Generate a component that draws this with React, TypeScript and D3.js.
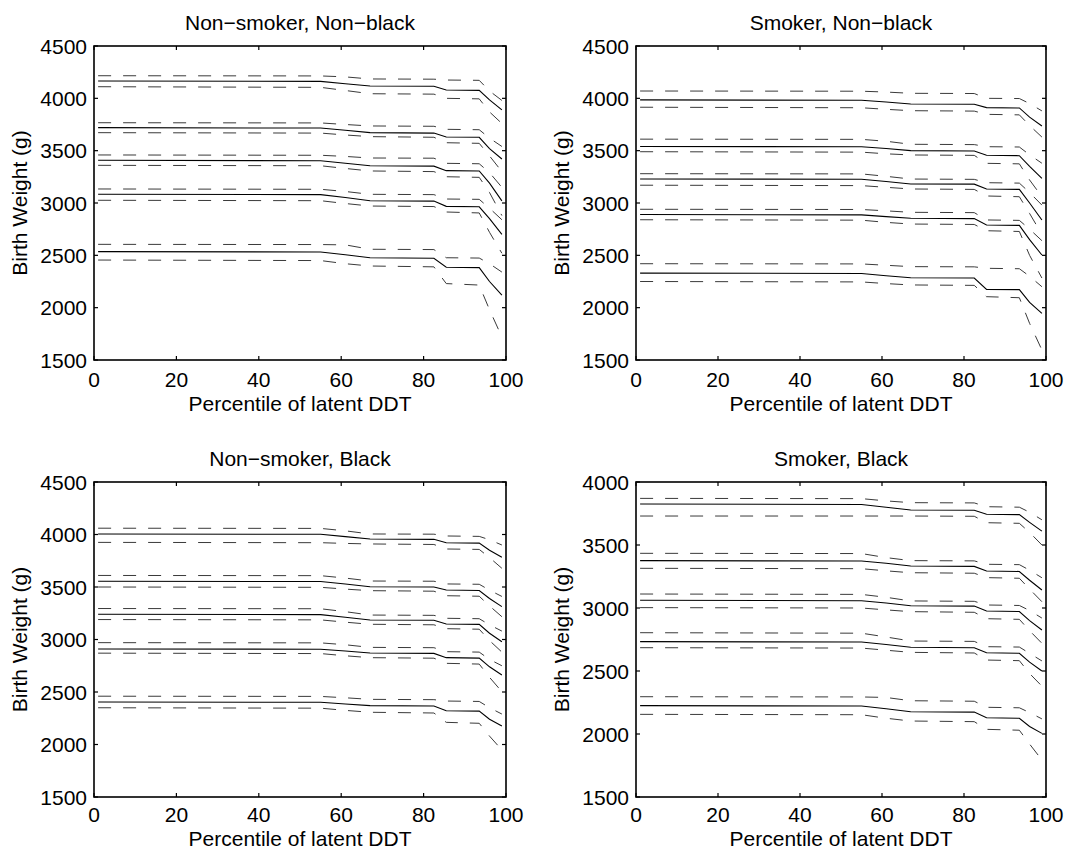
import React from "react";
import * as d3 from "d3";

// Percentile grid of latent DDT at which the quantile curves are evaluated
const PERCENTILES = [1, 55, 61, 67, 82.5, 85.5, 93.5, 96, 99];

const X_TICKS = [0, 20, 40, 60, 80, 100];
const Y_TICKS_WIDE = [1500, 2000, 2500, 3000, 3500, 4000, 4500];
const Y_TICKS_NARROW = [1500, 2000, 2500, 3000, 3500, 4000];

const TITLES = ["Non\u2212smoker, Non\u2212black", "Smoker, Non\u2212black", "Non\u2212smoker, Black", "Smoker, Black"];
const X_LABEL = "Percentile of latent DDT";
const Y_LABEL = "Birth Weight (g)";

// Non-smoker, Non-black: fitted birth-weight quantiles (top to bottom) and bands
const nsNbFit = [
  [4166, 4162, 4140, 4118, 4115, 4080, 4076, 3985, 3890],
  [3720, 3716, 3695, 3672, 3668, 3631, 3628, 3520, 3420],
  [3408, 3404, 3380, 3356, 3352, 3309, 3306, 3190, 3020],
  [3083, 3080, 3052, 3022, 3018, 2968, 2964, 2850, 2700],
  [2535, 2532, 2505, 2477, 2472, 2386, 2383, 2250, 2120],
];
const nsNbUpper = [
  [4216, 4214, 4205, 4185, 4183, 4175, 4172, 4070, 3980],
  [3767, 3765, 3750, 3736, 3733, 3704, 3700, 3620, 3540],
  [3459, 3456, 3445, 3430, 3428, 3379, 3375, 3290, 3150],
  [3134, 3131, 3110, 3083, 3080, 3038, 3035, 2950, 2840],
  [2605, 2603, 2600, 2558, 2555, 2477, 2474, 2420, 2340],
];
const nsNbLower = [
  [4111, 4105, 4075, 4044, 4040, 4000, 3995, 3870, 3760],
  [3672, 3668, 3650, 3634, 3628, 3576, 3570, 3450, 3300],
  [3360, 3356, 3330, 3306, 3300, 3251, 3245, 3100, 2880],
  [3026, 3022, 2995, 2971, 2966, 2914, 2905, 2720, 2520],
  [2455, 2450, 2420, 2398, 2390, 2230, 2216, 1980, 1720],
];

// Smoker, Non-black
const smNbFit = [
  [3985, 3982, 3965, 3946, 3944, 3911, 3908, 3820, 3736],
  [3540, 3537, 3520, 3500, 3497, 3456, 3452, 3350, 3236],
  [3230, 3227, 3205, 3182, 3180, 3134, 3130, 3000, 2838],
  [2890, 2887, 2870, 2854, 2851, 2790, 2786, 2650, 2503],
  [2330, 2327, 2305, 2286, 2283, 2175, 2172, 2050, 1946],
];
const smNbUpper = [
  [4070, 4068, 4060, 4048, 4046, 4000, 3998, 3950, 3880],
  [3610, 3608, 3590, 3561, 3558, 3538, 3535, 3460, 3380],
  [3280, 3278, 3255, 3229, 3226, 3194, 3190, 3100, 2980],
  [2940, 2938, 2925, 2911, 2908, 2838, 2834, 2750, 2640],
  [2420, 2418, 2405, 2392, 2390, 2376, 2372, 2300, 2200],
];
const smNbLower = [
  [3915, 3910, 3895, 3882, 3878, 3847, 3842, 3740, 3630],
  [3490, 3486, 3470, 3459, 3455, 3379, 3374, 3220, 3060],
  [3170, 3166, 3150, 3134, 3130, 3067, 3060, 2900, 2700],
  [2840, 2836, 2815, 2799, 2795, 2735, 2728, 2500, 2283],
  [2250, 2246, 2230, 2217, 2213, 2105, 2095, 1850, 1596],
];

// Non-smoker, Black
const nsBlFit = [
  [4005, 4002, 3980, 3957, 3954, 3922, 3918, 3850, 3783],
  [3555, 3552, 3528, 3503, 3500, 3471, 3467, 3390, 3313],
  [3240, 3237, 3212, 3186, 3183, 3148, 3144, 3060, 2979],
  [2910, 2907, 2890, 2871, 2868, 2827, 2823, 2740, 2662],
  [2405, 2402, 2385, 2370, 2366, 2322, 2318, 2240, 2176],
];
const nsBlUpper = [
  [4060, 4058, 4035, 4005, 4003, 3986, 3982, 3950, 3900],
  [3610, 3608, 3585, 3557, 3555, 3529, 3526, 3470, 3410],
  [3295, 3293, 3265, 3233, 3230, 3202, 3198, 3140, 3080],
  [2970, 2968, 2950, 2925, 2922, 2884, 2880, 2810, 2750],
  [2460, 2458, 2445, 2430, 2427, 2414, 2410, 2350, 2290],
];
const nsBlLower = [
  [3925, 3922, 3915, 3910, 3905, 3862, 3858, 3780, 3678],
  [3500, 3497, 3480, 3465, 3460, 3417, 3412, 3320, 3217],
  [3190, 3187, 3165, 3145, 3140, 3103, 3098, 2990, 2880],
  [2870, 2866, 2845, 2827, 2822, 2773, 2766, 2640, 2503],
  [2350, 2346, 2325, 2307, 2300, 2211, 2202, 2080, 1948],
];

// Smoker, Black
const smBlFit = [
  [3825, 3822, 3800, 3778, 3776, 3744, 3741, 3680, 3610],
  [3376, 3373, 3355, 3333, 3330, 3294, 3290, 3220, 3143],
  [3061, 3058, 3040, 3018, 3015, 2976, 2972, 2900, 2825],
  [2733, 2730, 2710, 2688, 2685, 2645, 2641, 2570, 2500],
  [2225, 2222, 2200, 2177, 2174, 2129, 2125, 2060, 2005],
];
const smBlUpper = [
  [3870, 3868, 3850, 3836, 3834, 3804, 3800, 3760, 3700],
  [3434, 3432, 3400, 3376, 3374, 3347, 3344, 3300, 3240],
  [3111, 3108, 3085, 3056, 3053, 3024, 3020, 2980, 2920],
  [2804, 2800, 2770, 2738, 2735, 2693, 2690, 2640, 2580],
  [2296, 2294, 2290, 2264, 2260, 2212, 2208, 2170, 2120],
];
const smBlLower = [
  [3730, 3730, 3730, 3730, 3728, 3677, 3672, 3600, 3500],
  [3315, 3312, 3295, 3280, 3276, 3241, 3236, 3150, 3050],
  [3003, 3000, 2985, 2971, 2966, 2915, 2910, 2820, 2720],
  [2685, 2682, 2665, 2648, 2643, 2587, 2582, 2480, 2380],
  [2156, 2153, 2125, 2103, 2098, 2037, 2030, 1920, 1794],
];

const FONT = '"Liberation Sans", Arial, Helvetica, sans-serif';
const FONT_SIZE = 21;
const TICK_LEN = 4;
const HEIGHT = 850;

type Box = { left: number; right: number; top: number; bottom: number };

type PanelProps = {
  title: string;
  box: Box;
  yDomain: [number, number];
  yTicks: number[];
  fit: number[][];
  upper: number[][];
  lower: number[][];
  tickLabelGap: number;
  xLabelGap: number;
};

function Panel({ title, box, yDomain, yTicks, fit, upper, lower, tickLabelGap, xLabelGap }: PanelProps) {
  const x = d3.scaleLinear().domain([0, 100]).range([box.left, box.right]);
  const y = d3.scaleLinear().domain(yDomain).range([box.bottom, box.top]);
  const line = d3
    .line<number>()
    .x((_, i) => x(PERCENTILES[i]))
    .y((d) => y(d));

  const midX = (box.left + box.right) / 2;
  const midY = (box.top + box.bottom) / 2;

  return (
    <g>
      {/* confidence bands */}
      {[...upper, ...lower].map((s, i) => (
        <path
          key={"band" + i}
          d={line(s) || ""}
          fill="none"
          stroke="#3a3a3a"
          strokeWidth={1}
          strokeDasharray="13,12"
        />
      ))}
      {/* fitted quantile curves */}
      {fit.map((s, i) => (
        <path key={"fit" + i} d={line(s) || ""} fill="none" stroke="#000" strokeWidth={1.1} />
      ))}

      {/* axes box */}
      <rect
        x={box.left}
        y={box.top}
        width={box.right - box.left}
        height={box.bottom - box.top}
        fill="none"
        stroke="#000"
        strokeWidth={1.6}
      />

      {/* x ticks on bottom and top, pointing inward */}
      {X_TICKS.map((t) => (
        <g key={"xt" + t}>
          <line x1={x(t)} x2={x(t)} y1={box.bottom} y2={box.bottom - TICK_LEN} stroke="#000" strokeWidth={1.2} />
          <line x1={x(t)} x2={x(t)} y1={box.top} y2={box.top + TICK_LEN} stroke="#000" strokeWidth={1.2} />
          <text
            x={x(t)}
            y={box.bottom + tickLabelGap}
            textAnchor="middle"
            fontFamily={FONT}
            fontSize={FONT_SIZE}
            fill="#000"
          >
            {t}
          </text>
        </g>
      ))}

      {/* y ticks on left and right, pointing inward */}
      {yTicks.map((t) => (
        <g key={"yt" + t}>
          <line x1={box.left} x2={box.left + TICK_LEN} y1={y(t)} y2={y(t)} stroke="#000" strokeWidth={1.2} />
          <line x1={box.right} x2={box.right - TICK_LEN} y1={y(t)} y2={y(t)} stroke="#000" strokeWidth={1.2} />
          <text x={box.left - 7} y={y(t)} dy="0.36em" textAnchor="end" fontFamily={FONT} fontSize={FONT_SIZE} fill="#000">
            {t}
          </text>
        </g>
      ))}

      <text x={midX} y={box.top - 16.5} textAnchor="middle" fontFamily={FONT} fontSize={FONT_SIZE} fill="#000">
        {title}
      </text>
      <text x={midX} y={box.bottom + xLabelGap} textAnchor="middle" fontFamily={FONT} fontSize={FONT_SIZE} fill="#000">
        {X_LABEL}
      </text>
      <text
        transform={`translate(${box.left - 67},${midY}) rotate(-90)`}
        textAnchor="middle"
        fontFamily={FONT}
        fontSize={FONT_SIZE}
        fill="#000"
      >
        {Y_LABEL}
      </text>
    </g>
  );
}

export default function App() {
  const leftCol = { left: 94, right: 506 };
  const rightCol = { left: 636, right: 1046 };
  const topRow = { top: 46, bottom: 360 };
  const bottomRow = { top: 482, bottom: 797 };
  // the lower row sits close to the figure edge, so its labels are packed tighter
  const topGaps = { tickLabelGap: 27, xLabelGap: 51 };
  const bottomGaps = { tickLabelGap: 24.5, xLabelGap: 48.5 };

  return (
    <svg
      width={1065}
      height={HEIGHT}
      viewBox={`0 0 1065 ${HEIGHT}`}
      style={{ position: "absolute", left: 0, top: 0, display: "block", background: "#fff" }}
    >
      <rect x={0} y={0} width={1065} height={HEIGHT} fill="#fff" />
      <Panel
        title={TITLES[0]}
        box={{ ...leftCol, ...topRow }}
        yDomain={[1500, 4500]}
        yTicks={Y_TICKS_WIDE}
        fit={nsNbFit}
        upper={nsNbUpper}
        lower={nsNbLower}
        {...topGaps}
      />
      <Panel
        title={TITLES[1]}
        box={{ ...rightCol, ...topRow }}
        yDomain={[1500, 4500]}
        yTicks={Y_TICKS_WIDE}
        fit={smNbFit}
        upper={smNbUpper}
        lower={smNbLower}
        {...topGaps}
      />
      <Panel
        title={TITLES[2]}
        box={{ ...leftCol, ...bottomRow }}
        yDomain={[1500, 4500]}
        yTicks={Y_TICKS_WIDE}
        fit={nsBlFit}
        upper={nsBlUpper}
        lower={nsBlLower}
        {...bottomGaps}
      />
      <Panel
        title={TITLES[3]}
        box={{ ...rightCol, ...bottomRow }}
        yDomain={[1500, 4000]}
        yTicks={Y_TICKS_NARROW}
        fit={smBlFit}
        upper={smBlUpper}
        lower={smBlLower}
        {...bottomGaps}
      />
    </svg>
  );
}
